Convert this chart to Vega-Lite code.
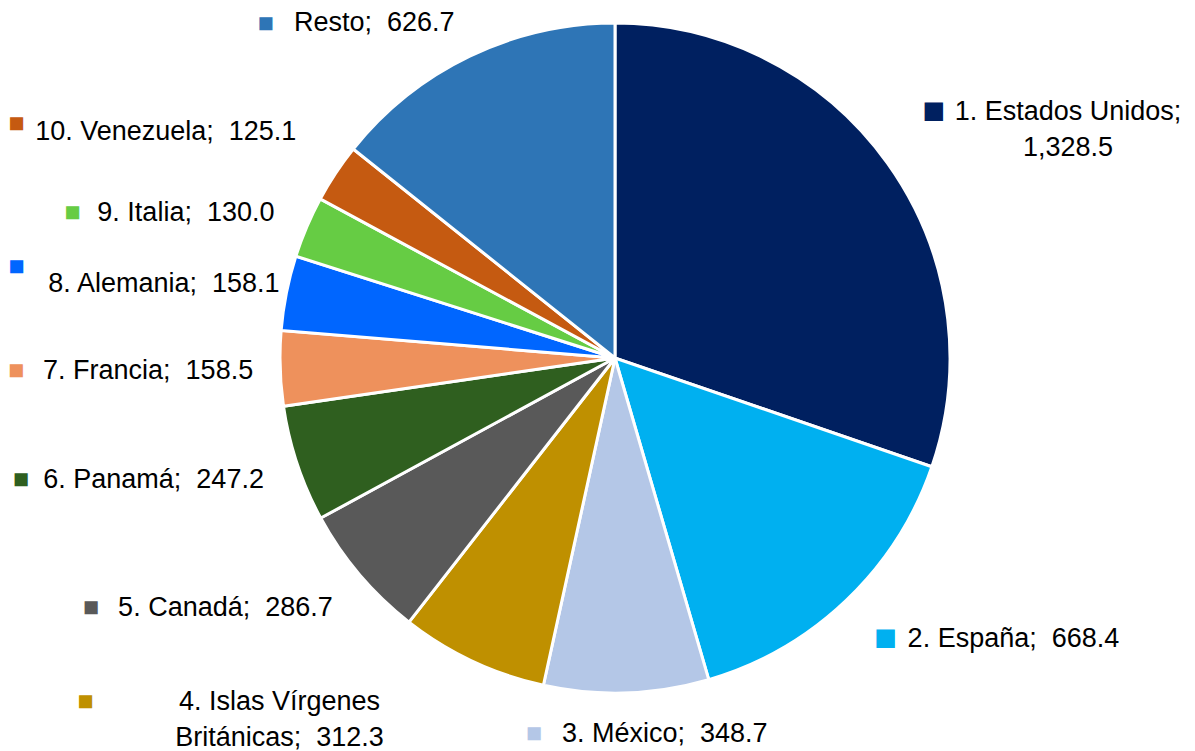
{
  "$schema": "https://vega.github.io/schema/vega-lite/v6.json",
  "autosize": {"type": "none"},
  "width": 1160,
  "height": 716,
  "padding": {"left": 35, "top": 0, "right": 0, "bottom": 35},
  "background": "white",
  "config": {"view": {"stroke": null}, "text": {"font": "Liberation Sans", "fontSize": 27, "lineHeight": 36, "baseline": "middle"}},
  "data": {
    "values": [
      {"rank": 1, "country": "Estados Unidos", "value": 1328.5, "label": "1. Estados Unidos;\n1,328.5"},
      {"rank": 2, "country": "España", "value": 668.4, "label": "2. España;\u00a0 668.4"},
      {"rank": 3, "country": "México", "value": 348.7, "label": "3. México;\u00a0 348.7"},
      {"rank": 4, "country": "Islas Vírgenes Británicas", "value": 312.3, "label": "4. Islas Vírgenes\nBritánicas;\u00a0 312.3"},
      {"rank": 5, "country": "Canadá", "value": 286.7, "label": "5. Canadá;\u00a0 286.7"},
      {"rank": 6, "country": "Panamá", "value": 247.2, "label": "6. Panamá;\u00a0 247.2"},
      {"rank": 7, "country": "Francia", "value": 158.5, "label": "7. Francia;\u00a0 158.5"},
      {"rank": 8, "country": "Alemania", "value": 158.1, "label": "8. Alemania;\u00a0 158.1"},
      {"rank": 9, "country": "Italia", "value": 130.0, "label": "9. Italia;\u00a0 130.0"},
      {"rank": 10, "country": "Venezuela", "value": 125.1, "label": "10. Venezuela;\u00a0 125.1"},
      {"rank": 11, "country": "Resto", "value": 626.7, "label": "Resto;\u00a0 626.7"}
    ]
  },
  "encoding": {
    "theta": {"field": "value", "type": "quantitative", "stack": true},
    "order": {"field": "rank", "type": "quantitative", "sort": "ascending"}
  },
  "layer": [
    {
      "mark": {"type": "arc", "radius": 335, "stroke": "white", "strokeWidth": 3},
      "encoding": {
        "color": {"field": "country", "type": "nominal", "legend": null,
          "scale": {"domain": ["Estados Unidos", "España", "México", "Islas Vírgenes Británicas", "Canadá", "Panamá", "Francia", "Alemania", "Italia", "Venezuela", "Resto"],
                    "range": ["#002060", "#00B0F0", "#B4C7E7", "#BF9000", "#595959", "#2F5F1F", "#EE915C", "#0066FF", "#66CC44", "#C55A11", "#2E75B6"]}}
      }
    },
    {
      "mark": {"type": "text", "radius": 392, "align": "center", "dx": 134, "dy": -18, "lineBreak": "\n", "color": "black"},
      "encoding": {"detail": {"field": "country"}, "text": {"condition": {"test": "datum.rank == 1", "field": "label"}, "value": ""}}
    },
    {
      "mark": {"type": "text", "radius": 392, "align": "center", "dy": -18, "fontSize": 38},
      "encoding": {"color": {"field": "country", "type": "nominal", "legend": null}, "text": {"condition": {"test": "datum.rank == 1", "value": "■"}, "value": ""}}
    },
    {
      "mark": {"type": "text", "radius": 392, "align": "left", "dx": 22, "dy": -3, "color": "black"},
      "encoding": {"detail": {"field": "country"}, "text": {"condition": {"test": "datum.rank == 2", "field": "label"}, "value": ""}}
    },
    {
      "mark": {"type": "text", "radius": 392, "align": "center", "dy": -3, "fontSize": 38},
      "encoding": {"color": {"field": "country", "type": "nominal", "legend": null}, "text": {"condition": {"test": "datum.rank == 2", "value": "■"}, "value": ""}}
    },
    {
      "mark": {"type": "text", "radius": 376, "align": "center", "dx": 37, "color": "black"},
      "encoding": {"detail": {"field": "country"}, "text": {"condition": {"test": "datum.rank == 3", "field": "label"}, "value": ""}}
    },
    {
      "mark": {"type": "text", "radius": 376, "align": "center", "dx": -94},
      "encoding": {"color": {"field": "country", "type": "nominal", "legend": null}, "text": {"condition": {"test": "datum.rank == 3", "value": "■"}, "value": ""}}
    },
    {
      "mark": {"type": "text", "radius": 380, "align": "center", "dx": -174, "lineBreak": "\n", "color": "black"},
      "encoding": {"detail": {"field": "country"}, "text": {"condition": {"test": "datum.rank == 4", "field": "label"}, "value": ""}}
    },
    {
      "mark": {"type": "text", "radius": 380, "align": "center", "dx": -368},
      "encoding": {"color": {"field": "country", "type": "nominal", "legend": null}, "text": {"condition": {"test": "datum.rank == 4", "value": "■"}, "value": ""}}
    },
    {
      "mark": {"type": "text", "radius": 370, "align": "right", "dy": 11, "color": "black"},
      "encoding": {"detail": {"field": "country"}, "text": {"condition": {"test": "datum.rank == 5", "field": "label"}, "value": ""}}
    },
    {
      "mark": {"type": "text", "radius": 370, "align": "center", "dx": -242, "dy": 11},
      "encoding": {"color": {"field": "country", "type": "nominal", "legend": null}, "text": {"condition": {"test": "datum.rank == 5", "value": "■"}, "value": ""}}
    },
    {
      "mark": {"type": "text", "radius": 370, "align": "right", "dy": 5, "color": "black"},
      "encoding": {"detail": {"field": "country"}, "text": {"condition": {"test": "datum.rank == 6", "field": "label"}, "value": ""}}
    },
    {
      "mark": {"type": "text", "radius": 370, "align": "center", "dx": -243, "dy": 5},
      "encoding": {"color": {"field": "country", "type": "nominal", "legend": null}, "text": {"condition": {"test": "datum.rank == 6", "value": "■"}, "value": ""}}
    },
    {
      "mark": {"type": "text", "radius": 362, "align": "right", "dy": 2, "color": "black"},
      "encoding": {"detail": {"field": "country"}, "text": {"condition": {"test": "datum.rank == 7", "field": "label"}, "value": ""}}
    },
    {
      "mark": {"type": "text", "radius": 362, "align": "center", "dx": -237, "dy": 2},
      "encoding": {"color": {"field": "country", "type": "nominal", "legend": null}, "text": {"condition": {"test": "datum.rank == 7", "value": "■"}, "value": ""}}
    },
    {
      "mark": {"type": "text", "radius": 342, "align": "right", "dy": -8, "color": "black"},
      "encoding": {"detail": {"field": "country"}, "text": {"condition": {"test": "datum.rank == 8", "field": "label"}, "value": ""}}
    },
    {
      "mark": {"type": "text", "radius": 342, "align": "center", "dx": -263, "dy": -25},
      "encoding": {"color": {"field": "country", "type": "nominal", "legend": null}, "text": {"condition": {"test": "datum.rank == 8", "value": "■"}, "value": ""}}
    },
    {
      "mark": {"type": "text", "radius": 370, "align": "right", "color": "black"},
      "encoding": {"detail": {"field": "country"}, "text": {"condition": {"test": "datum.rank == 9", "field": "label"}, "value": ""}}
    },
    {
      "mark": {"type": "text", "radius": 370, "align": "center", "dx": -202},
      "encoding": {"color": {"field": "country", "type": "nominal", "legend": null}, "text": {"condition": {"test": "datum.rank == 9", "value": "■"}, "value": ""}}
    },
    {
      "mark": {"type": "text", "radius": 382, "align": "right", "dy": -15, "color": "black"},
      "encoding": {"detail": {"field": "country"}, "text": {"condition": {"test": "datum.rank == 10", "field": "label"}, "value": ""}}
    },
    {
      "mark": {"type": "text", "radius": 382, "align": "center", "dx": -280, "dy": -23},
      "encoding": {"color": {"field": "country", "type": "nominal", "legend": null}, "text": {"condition": {"test": "datum.rank == 10", "value": "■"}, "value": ""}}
    },
    {
      "mark": {"type": "text", "radius": 370, "align": "right", "dy": -2, "color": "black"},
      "encoding": {"detail": {"field": "country"}, "text": {"condition": {"test": "datum.rank == 11", "field": "label"}, "value": ""}}
    },
    {
      "mark": {"type": "text", "radius": 370, "align": "center", "dx": -189, "dy": -1},
      "encoding": {"color": {"field": "country", "type": "nominal", "legend": null}, "text": {"condition": {"test": "datum.rank == 11", "value": "■"}, "value": ""}}
    }
  ]
}
